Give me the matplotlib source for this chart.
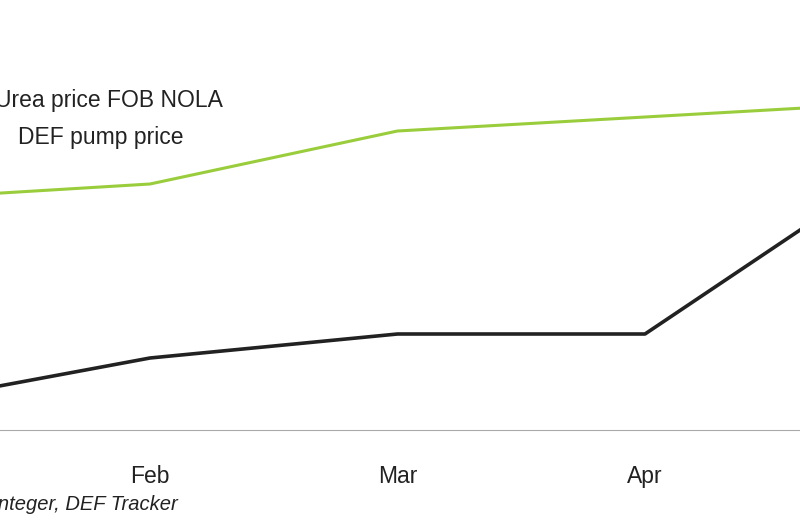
import matplotlib
matplotlib.use("Agg")
import matplotlib.pyplot as plt

months = ["Jan", "Feb", "Mar", "Apr", "May"]
urea_fob_nola = [2.31, 2.46, 2.99, 3.13, 3.27]
def_pump = [0.26, 0.72, 0.96, 0.96, 2.62]

plt.rcParams['font.family'] = ['Liberation Sans', 'DejaVu Sans']
fig = plt.figure(figsize=(8, 5.32), dpi=100)
ax = fig.add_axes([0, 102/532, 1, 430/532])
x = list(range(len(months)))
ax.plot(x, urea_fob_nola, color="#9acd3c", lw=2.2)
ax.plot(x, def_pump, color="#222222", lw=2.6)
for s in ["top", "left", "right"]:
    ax.spines[s].set_visible(False)
ax.spines["bottom"].set_color("#aaaaaa")
ax.set_yticks([])
ax.set_xticks(x[1:4])
ax.set_xticklabels(months[1:4], fontsize=16.5, color="#222222")
ax.tick_params(axis="x", length=0, pad=25)
ax.set_xlim(1 - 150/247.5, 1 + 650/247.5)
ax.set_ylim(0, 4.30)
fig.text(223/800, 1 - 100/532, "Urea price FOB NOLA", ha="right", va="center", fontsize=16.5, color="#222222")
fig.text(183/800, 1 - 137/532, "DEF pump price", ha="right", va="center", fontsize=16.5, color="#222222")
fig.text(178/800, 1 - 505/532, "Source: Integer, DEF Tracker", ha="right", va="center", fontsize=14.5, style="italic", color="#222222")
fig.savefig("out.png", dpi=100)
